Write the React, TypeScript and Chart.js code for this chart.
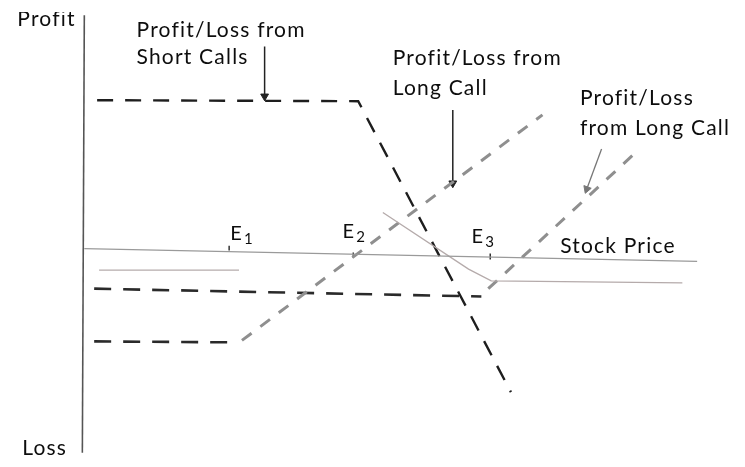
import React, { useEffect, useRef } from "react";
import { Chart, registerables } from "chart.js";

Chart.register(...registerables);

// Diagram units: x = stock price scale, y = profit (+) / loss (-)
const X_RANGE = [0, 745];
const Y_RANGE = [-217, 250];

const profitAxis = [{ x: 80, y: 240 }, { x: 78, y: -208 }];
const stockPriceAxis = [{ x: 80, y: 1 }, { x: 702, y: -12 }];
const netPayoffLow = [{ x: 95, y: -21 }, { x: 237, y: -21 }];
const netPayoffHigh = [
  { x: 383, y: 38 }, { x: 470, y: -20 }, { x: 493, y: -32 }, { x: 687, y: -34 },
];
const shortCalls = [{ x: 93, y: 153 }, { x: 358, y: 152 }, { x: 513, y: -146 }];
const longCall1Flat = [{ x: 90, y: -94 }, { x: 235, y: -95 }];
const longCall1Rise = [{ x: 240, y: -93 }, { x: 545, y: 138 }];
const longCall2Flat = [{ x: 90, y: -40 }, { x: 483, y: -48 }];
const longCall2Rise = [{ x: 490, y: -40 }, { x: 637, y: 97 }];
const arrowShort = [{ x: 263, y: 208 }, { x: 263, y: 157 }];
const arrowLong1 = [{ x: 454, y: 143 }, { x: 454, y: 68 }];
const arrowLong2 = [{ x: 605, y: 103 }, { x: 590, y: 62 }];
const tickE1 = [{ x: 227, y: 4 }, { x: 227, y: -1 }];
const tickE2 = [{ x: 353, y: -3 }, { x: 353, y: -8 }];
const tickE3 = [{ x: 492, y: -4 }, { x: 492, y: -10 }];

const labelTexts = [
  "Profit", "Profit/Loss from", "Short Calls", "Profit/Loss from", "Long Call",
  "Profit/Loss", "from Long Call", "Stock Price", "Loss",
];
const labelX = [12, 133, 133, 393, 393, 583, 583, 563, 17];
const labelY = [229, 218, 190, 189, 158, 148, 117, -3, -210];

const strikeNames = ["E", "E", "E"];
const strikeSubs = ["1", "2", "3"];
const strikeX = [228, 342, 473];
const strikeY = [10, 12, 7];

const FONT = "Lato, 'Open Sans', sans-serif";

const labelPlugin = {
  id: "labels",
  afterDatasetsDraw(chart: any) {
    const ctx = chart.ctx;
    const xs = chart.scales.x;
    const ys = chart.scales.y;
    ctx.save();
    ctx.fillStyle = "#0d0d0d";
    ctx.textAlign = "left";
    ctx.textBaseline = "alphabetic";
    ctx.font = `21px ${FONT}`;
    (ctx as any).letterSpacing = "1.2px";
    labelTexts.forEach((t, i) => {
      const px = xs.getPixelForValue(labelX[i]);
      const py = ys.getPixelForValue(labelY[i]);
      if (i === 0) {
        ctx.save();
        ctx.beginPath();
        ctx.rect(0, 12, 120, 30);
        ctx.clip();
        ctx.fillText(t, px, py);
        ctx.restore();
      } else {
        ctx.fillText(t, px, py);
      }
    });
    strikeNames.forEach((t, i) => {
      const px = xs.getPixelForValue(strikeX[i]);
      const py = ys.getPixelForValue(strikeY[i]);
      ctx.font = `20px ${FONT}`;
      ctx.fillText(t, px, py);
      const w = ctx.measureText(t).width;
      ctx.font = `15px ${FONT}`;
      ctx.fillText(strikeSubs[i], px + w + 1, py + 4);
    });
    ctx.restore();
  },
};

function line(data: any[], color: string, width: number, dash: number[] = [], extra: any = {}) {
  return {
    data,
    borderColor: color,
    backgroundColor: color,
    borderWidth: width,
    borderDash: dash,
    pointRadius: 0,
    fill: false,
    tension: 0,
    ...extra,
  };
}

function arrow(data: any[], color: string, width: number, rotation: number) {
  return line(data, color, width, [], {
    pointRadius: [0, 4.5],
    pointStyle: "triangle",
    pointRotation: [0, rotation],
    pointBorderWidth: 1,
    pointBackgroundColor: color,
    pointBorderColor: color,
  });
}

export default function App() {
  const ref = useRef<HTMLCanvasElement>(null);
  useEffect(() => {
    document.body.style.margin = "0";
    const canvas = ref.current!;
    const chart = new Chart(canvas, {
      type: "line",
      data: {
        datasets: [
          line(profitAxis, "#555", 1.6),
          line(stockPriceAxis, "#9a9a9a", 1.3),
          line(netPayoffLow, "#b5abab", 1.3),
          line(netPayoffHigh, "#b5abab", 1.3),
          line(shortCalls, "#1e1e1e", 2.4, [16, 12]),
          line(longCall1Flat, "#2a2a2a", 2.6, [17, 12]),
          line(longCall1Rise, "#8f8f8f", 3, [12, 11]),
          line(longCall2Flat, "#2a2a2a", 2.6, [17, 12]),
          line(longCall2Rise, "#8f8f8f", 3, [12, 11]),
          arrow(arrowShort, "#222", 1.5, 180),
          arrow(arrowLong1, "#222", 1.5, 180),
          arrow(arrowLong2, "#777", 1.3, 200),
          line(tickE1, "#333", 1.5),
          line(tickE2, "#333", 1.5),
          line(tickE3, "#333", 1.5),
        ] as any,
      },
      options: {
        animation: false,
        responsive: false,
        maintainAspectRatio: false,
        layout: { padding: 0 },
        plugins: { legend: { display: false }, tooltip: { enabled: false } },
        scales: {
          x: { type: "linear", min: X_RANGE[0], max: X_RANGE[1], display: false },
          y: { type: "linear", min: Y_RANGE[0], max: Y_RANGE[1], display: false },
        },
      },
      plugins: [labelPlugin],
    });
    return () => chart.destroy();
  }, []);
  return (
    <div style={{ width: 745, height: 467, background: "#fff" }}>
      <canvas ref={ref} width={745} height={467} style={{ display: "block", width: 745, height: 467 }} />
    </div>
  );
}
